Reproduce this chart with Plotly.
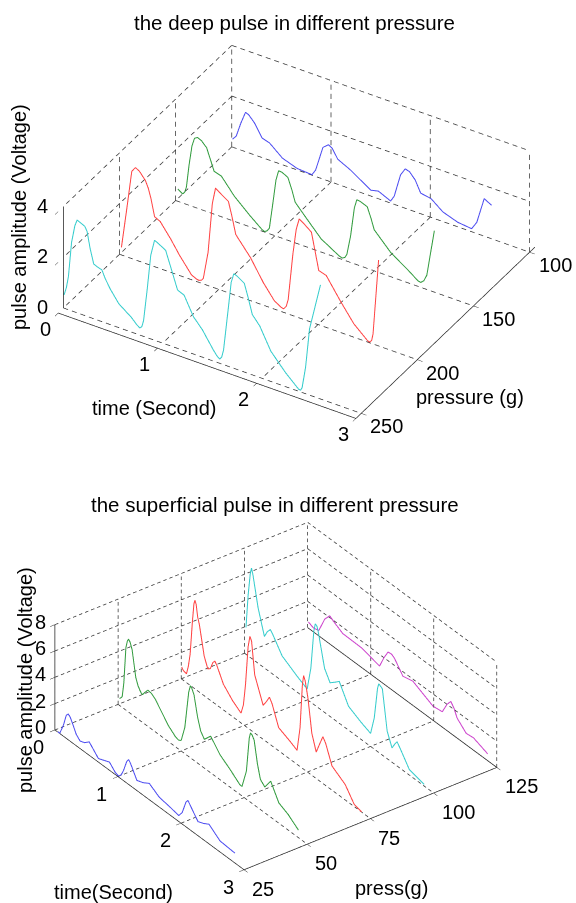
import math
import plotly.graph_objects as go

# ---- deep pulse data -----------------------------------------------------
deep_t_250 = [.007,.03,.05,.082,.115,.138,.17,.215,.238,.27,.305,.35,.387,.42,.472,.558,.684,.74,.77,.79,.807,.844,.88,.918,.95,1.03,1.06,1.086,1.15,1.216,1.31,1.40,1.51,1.55,1.576,1.595,1.613,1.662,1.69,1.717,1.75,1.822,1.86,1.903,1.978,2.09,2.238,2.37,2.39,2.405,2.44,2.48,2.59]
deep_v_250 = [.53,.85,1.30,2.70,3.40,3.66,3.60,3.52,3.35,2.70,2.16,2.08,2.04,1.75,1.40,.94,.58,.36,.28,.36,.61,1.90,3.30,3.94,3.88,3.70,3.35,3.05,2.30,2.19,1.47,1.08,.44,.24,.17,.28,.57,2.32,3.35,3.73,3.68,3.50,3.00,2.38,2.03,1.19,.55,.08,.07,.19,1.05,2.62,4.50]
deep_t_200 = [.019,.074,.123,.16,.20,.26,.29,.316,.353,.409,.52,.602,.725,.78,.80,.825,.844,.892,.935,.967,1.00,1.097,1.13,1.171,1.32,1.45,1.561,1.63,1.654,1.68,1.699,1.747,1.78,1.81,1.85,1.933,1.97,2.007,2.082,2.23,2.36,2.50,2.52,2.54,2.554,2.61]
deep_v_200 = [.30,1.93,3.44,3.64,3.55,3.27,3.00,2.64,1.97,1.86,1.29,.81,.19,.09,.08,.12,.22,1.32,3.30,3.95,3.85,3.60,3.10,2.40,1.69,.88,.32,.16,.14,.28,.57,2.45,3.45,3.90,3.80,3.55,2.85,2.14,2.05,1.21,.53,.05,.03,.12,.40,3.39]
deep_t_150 = [.022,.045,.07,.09,.108,.135,.164,.19,.22,.26,.312,.35,.387,.461,.591,.74,.87,.896,.92,.944,.981,1.01,1.037,1.07,1.13,1.17,1.204,1.297,1.465,1.65,1.68,1.705,1.725,1.762,1.80,1.825,1.86,1.93,1.97,2.00,2.17,2.338,2.44,2.468,2.50,2.53,2.606]
deep_v_150 = [.49,.42,.36,.45,.68,1.60,2.38,2.72,2.79,2.72,2.51,2.10,1.69,1.60,.99,.47,.06,.02,.08,.22,1.31,2.20,2.61,2.60,2.48,2.05,1.60,1.21,.52,.09,.06,.12,.27,1.04,2.20,2.56,2.54,2.43,2.00,1.62,.94,.51,.22,.19,.30,.56,2.42]
deep_t_100 = [.007,.045,.09,.138,.17,.23,.305,.38,.51,.658,.807,.844,.918,.974,1.01,1.067,1.197,1.40,1.476,1.60,1.636,1.70,1.747,1.79,1.848,1.903,2.007,2.126,2.275,2.416,2.468,2.543,2.617]
deep_v_100 = [.31,.49,1.05,1.55,1.50,1.25,.77,.68,.26,.06,.02,.25,1.25,1.43,1.35,.99,.74,.23,.30,.08,.32,1.25,1.55,1.50,1.25,.81,.74,.38,.18,.12,.44,1.48,1.32]

# ---- superficial pulse data ----------------------------------------------
sup_t_25 = [.047,.076,.135,.18,.21,.24,.28,.34,.40,.47,.544,.69,.865,.96,1.01,1.05,1.088,1.14,1.17,1.20,1.30,1.40,1.497,1.655,1.83,1.965,2.02,2.08,2.11,2.15,2.27,2.36,2.444,2.62,2.854]
sup_v_25 = [.04,.01,.84,1.75,1.96,1.85,1.47,.85,.57,.70,1.02,.27,.62,.15,.07,.30,.77,1.65,1.89,1.70,.77,.95,1.24,.75,.60,.45,.89,1.90,2.11,1.85,1.07,1.25,1.49,.84,.75]
sup_t_50 = [.023,.064,.09,.123,.145,.164,.19,.222,.28,.316,.36,.386,.43,.474,.53,.59,.795,.912,.96,1.0,1.058,1.12,1.146,1.17,1.205,1.26,1.31,1.368,1.42,1.468,1.614,1.79,1.93,1.965,2.035,2.08,2.10,2.125,2.158,2.21,2.257,2.327,2.38,2.42,2.55,2.696,2.86]
sup_v_50 = [.52,.80,1.90,4.72,5.30,5.54,5.40,4.94,3.04,2.53,2.19,2.11,2.45,2.76,2.70,2.48,1.22,.75,.68,.80,1.99,4.90,5.47,5.35,4.97,3.50,2.61,2.19,2.50,2.78,1.91,1.29,.74,.72,2.14,4.80,5.27,5.20,4.92,3.30,2.29,1.96,2.40,2.73,1.54,1.19,.57]
sup_t_75 = [.006,.03,.082,.11,.14,.175,.20,.216,.235,.26,.287,.363,.42,.46,.50,.532,.565,.667,.813,.947,.985,1.018,1.06,1.088,1.115,1.164,1.298,1.35,1.398,1.44,1.544,1.72,1.836,1.883,1.92,1.94,1.965,2.01,2.07,2.14,2.20,2.246,2.29,2.39,2.6,2.743,2.86]
sup_v_75 = [.92,.75,.67,1.30,2.36,4.90,6.40,6.73,6.50,5.60,5.12,3.01,2.24,2.40,3.00,3.23,3.00,1.96,1.22,.75,1.50,3.16,6.20,7.08,6.80,4.42,2.58,3.05,3.55,3.20,1.76,1.37,1.07,2.93,6.30,7.11,6.80,5.61,3.20,2.01,2.90,3.55,3.20,1.84,1.17,.17,.02]
sup_t_100 = [.023,.058,.09,.111,.135,.216,.316,.36,.41,.45,.596,.83,.994,1.053,1.10,1.123,1.15,1.17,1.27,1.357,1.44,1.503,1.65,1.854,2.0,2.058,2.11,2.13,2.187,2.263,2.34,2.38,2.42,2.47,2.614,2.848]
sup_v_100 = [2.04,4.65,6.30,6.86,6.40,4.20,2.39,2.90,3.25,3.00,1.91,1.22,.80,2.61,5.60,6.21,6.10,5.76,3.35,2.56,2.90,3.18,1.81,1.29,.99,2.36,4.80,5.22,5.04,2.09,1.09,1.50,1.84,1.50,.42,.12]
sup_t_125 = [.012,.09,.175,.27,.35,.42,.556,.848,1.14,1.21,1.275,1.33,1.374,1.51,1.667,1.988,2.135,2.21,2.27,2.32,2.37,2.515,2.63,2.854]
sup_v_125 = [.47,.30,.40,1.60,2.14,1.90,1.52,1.49,1.12,2.00,2.66,2.70,2.56,1.66,1.84,1.07,1.17,2.00,2.43,2.10,1.52,.87,.94,.52]

# ---- ticks and labels ----------------------------------------------------
deep_time_ticks = [0, 1, 2, 3]
deep_press_ticks = [100, 150, 200, 250]
deep_volt_ticks = [0, 2, 4]
sup_time_ticks = [0, 1, 2, 3]
sup_press_ticks = [25, 50, 75, 100, 125]
sup_volt_ticks = [0, 2, 4, 6, 8]

CYAN, RED, GREEN, BLUE, MAGENTA = "#33cccc", "#ff4040", "#2f9a3c", "#4a4af0", "#cc40cc"
FONT = dict(family="Liberation Sans, Arial, sans-serif", size=20, color="#000000")
TITLE_FONT = dict(FONT, size=20.5)
GRID = "#333333"


def grid_xyz(time_ticks, press_ticks, volt_ticks, back_press, px_per, period):
    """MATLAB-style dashed grid: floor, wall at t=0 and wall at the far pressure."""
    xs, ys, zs = [], [], []
    t0, t1 = time_ticks[0], time_ticks[-1]
    p0, p1 = press_ticks[0], press_ticks[-1]
    v0, v1 = volt_ticks[0], volt_ticks[-1]

    def seg(a, b):
        length = math.sqrt(sum((px_per[i] * (b[i] - a[i])) ** 2 for i in range(3)))
        n = max(1, int(round(length / period)))
        for k in range(n):
            f0, f1 = k / n, (k + 0.55) / n
            xs.extend([a[0] + f0 * (b[0] - a[0]), a[0] + f1 * (b[0] - a[0]), None])
            ys.extend([a[1] + f0 * (b[1] - a[1]), a[1] + f1 * (b[1] - a[1]), None])
            zs.extend([a[2] + f0 * (b[2] - a[2]), a[2] + f1 * (b[2] - a[2]), None])

    for t in time_ticks:
        seg((t, p0, v0), (t, p1, v0))
        seg((t, back_press, v0), (t, back_press, v1))
    for p in press_ticks:
        seg((t0, p, v0), (t1, p, v0))
        seg((t0, p, v0), (t0, p, v1))
    for v in volt_ticks:
        seg((t0, back_press, v), (t1, back_press, v))
        seg((t0, p0, v), (t0, p1, v))
    return xs, ys, zs


fig = go.Figure()


def add_curve(scene, t, p, v, color):
    fig.add_trace(go.Scatter3d(x=t, y=[p] * len(t), z=v, mode="lines", scene=scene,
                               line=dict(color=color, width=2), hoverinfo="skip", showlegend=False))


def add_grid(scene, xyz):
    fig.add_trace(go.Scatter3d(x=xyz[0], y=xyz[1], z=xyz[2], mode="lines", scene=scene,
                               line=dict(color=GRID, width=1.5), hoverinfo="skip", showlegend=False))


add_grid("scene", grid_xyz(deep_time_ticks, deep_press_ticks, deep_volt_ticks, 100, (104, 1.62, 25.5), 9.0))
add_curve("scene", deep_t_250, 250, deep_v_250, CYAN)
add_curve("scene", deep_t_200, 200, deep_v_200, RED)
add_curve("scene", deep_t_150, 150, deep_v_150, GREEN)
add_curve("scene", deep_t_100, 100, deep_v_100, BLUE)
# z axis line stops at the last tick although the last cyan sample rises above it
fig.add_trace(go.Scatter3d(x=[0, 0], y=[250, 250], z=[0, 4], mode="lines", scene="scene",
                           line=dict(color="#222222", width=1.5), hoverinfo="skip", showlegend=False))

add_grid("scene2", grid_xyz(sup_time_ticks, sup_press_ticks, sup_volt_ticks, 125, (78, 2.72, 13.4), 6.5))
add_curve("scene2", sup_t_25, 25, sup_v_25, BLUE)
add_curve("scene2", sup_t_50, 50, sup_v_50, GREEN)
add_curve("scene2", sup_t_75, 75, sup_v_75, RED)
add_curve("scene2", sup_t_100, 100, sup_v_100, CYAN)
add_curve("scene2", sup_t_125, 125, sup_v_125, MAGENTA)
fig.add_trace(go.Scatter3d(x=[0, 3], y=[125, 125], z=[0, 0], mode="lines", scene="scene2",
                           line=dict(color="#222222", width=1.5), hoverinfo="skip", showlegend=False))


def axis(rng, ticks, line=True):
    return dict(range=rng, tickmode="array", tickvals=ticks, showticklabels=False,
                title=dict(text=""), showgrid=False, zeroline=False, showbackground=False,
                showline=line, linecolor="#222222", linewidth=1.5, ticks="outside",
                ticklen=6, tickcolor="#222222", tickwidth=1, showspikes=False)


def note(x, y, z, text, dx, dy, anchor="center"):
    return dict(x=x, y=y, z=z, text=str(text), showarrow=False, xshift=dx, yshift=-dy,
                xanchor=anchor, yanchor="middle", font=FONT)


deep_notes = (
    [note(t, 250, 0, t, -18, 21) for t in deep_time_ticks]
    + [note(3, p, 0, p, 7, 13, "left") for p in deep_press_ticks]
    + [note(0, 250, v, v, -21, -1) for v in deep_volt_ticks]
)
sup_notes = (
    [note(t, 25, 0, t, -16, 17) for t in sup_time_ticks]
    + [note(3, p, 0, p, 6, 19, "left") for p in sup_press_ticks]
    + [note(0, 25, v, v, -14, -3) for v in sup_volt_ticks]
)


def paper(px, py, text, angle=0, font=FONT):
    return dict(x=px / 576, y=1 - py / 903, xref="paper", yref="paper", text=text, showarrow=False,
                xanchor="center", yanchor="middle", textangle=angle, font=font)


fig.update_layout(
    width=576, height=903, margin=dict(l=0, r=0, t=0, b=0), paper_bgcolor="white", showlegend=False,
    hovermode=False,
    scene=dict(
        domain=dict(x=[0.0295, 1], y=[0.5205, 0.9911]),
        xaxis=axis([0, 3], deep_time_ticks),
        yaxis=dict(axis([250, 100], deep_press_ticks), autorange="reversed"),
        zaxis=axis([0, 4.7], deep_volt_ticks, line=False),
        aspectmode="manual", aspectratio=dict(x=1.64, y=1.64 * 0.988, z=0.69),
        camera=dict(projection=dict(type="orthographic"), up=dict(x=0, y=0, z=1),
                    center=dict(x=0, y=0, z=0),
                    eye=dict(x=0.4225 * 1.5, y=-0.6947 * 1.5, z=0.582 * 1.5)),
        annotations=deep_notes,
    ),
    scene2=dict(
        domain=dict(x=[0.0139, 0.9444], y=[0, 0.4585]),
        xaxis=axis([0, 3], sup_time_ticks),
        # the small headroom past 125 stops the traces on the far wall being clipped by rounding
        yaxis=axis([25, 125.1], sup_press_ticks),
        zaxis=axis([0, 8], sup_volt_ticks),
        aspectmode="manual", aspectratio=dict(x=1.536, y=1.536 * 0.99, z=0.6076),
        camera=dict(projection=dict(type="orthographic"), up=dict(x=0, y=0, z=1),
                    center=dict(x=0, y=0, z=0),
                    eye=dict(x=0.673 * 1.5, y=-0.498 * 1.5, z=0.547 * 1.5)),
        annotations=sup_notes,
    ),
    annotations=[
        paper(294.5, 22, "the deep pulse in different pressure", font=TITLE_FONT),
        paper(19, 217, "pulse amplitude (Voltage)", -90),
        paper(154, 408, "time (Second)"),
        paper(470, 397, "pressure (g)"),
        paper(275, 505, "the superficial pulse in different pressure", font=TITLE_FONT),
        paper(25, 680, "pulse amplitude (Voltage)", -90),
        paper(113, 892, "time(Second)"),
        paper(391, 888, "press(g)"),
    ],
)

fig.write_html("out.html", config=dict(displayModeBar=False),
               post_script="document.body.style.margin='0';")
